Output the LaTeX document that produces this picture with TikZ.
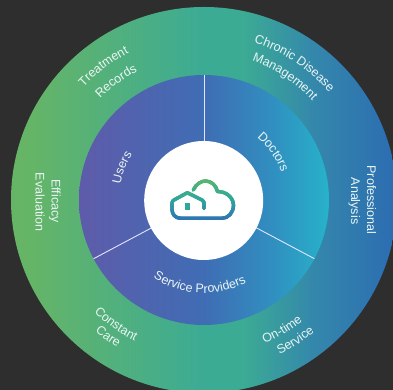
\documentclass[tikz,border=0pt]{standalone}
\usepackage{fontspec}
\setmainfont{Liberation Sans}
\usetikzlibrary{decorations.text}
\definecolor{bgdark}{HTML}{2D2E2D}
\definecolor{lbl}{HTML}{EAF5F4}
\definecolor{icA}{HTML}{5CB86A}
\definecolor{icB}{HTML}{2FA79A}
\definecolor{icC}{HTML}{2F72B5}
\definecolor{outerA}{HTML}{66B566}
\definecolor{outerB}{HTML}{3CAB94}
\definecolor{outerC}{HTML}{3488AB}
\definecolor{outerD}{HTML}{2C6CB2}
\definecolor{innerA}{HTML}{5F5BAA}
\definecolor{innerB}{HTML}{3F6DB4}
\definecolor{innerC}{HTML}{3090C0}
\definecolor{innerD}{HTML}{27B2CA}
\pgfdeclarehorizontalshading{outerring}{100bp}{color(0bp)=(outerA);color(27bp)=(outerA);color(50bp)=(outerB);color(55bp)=(outerB);color(64bp)=(outerC);color(75bp)=(outerD);color(100bp)=(outerD)}
\pgfdeclarehorizontalshading{innerring}{100bp}{color(0bp)=(innerA);color(25bp)=(innerA);color(50bp)=(innerB);color(64bp)=(innerC);color(75bp)=(innerD);color(100bp)=(innerD)}
\newcommand{\lblfont}{\fontsize{12.5}{14}\selectfont}
\newcommand{\cwtext}[3]{\path[decorate,decoration={text along path,text color=lbl,text align=center,text={|\lblfont|#3}}] ({#1+50}:#2) arc[start angle={#1+50},end angle={#1-50},radius=#2];}
\newcommand{\ccwtext}[3]{\path[decorate,decoration={text along path,text color=lbl,text align=center,text={|\lblfont|#3}}] ({#1-50}:#2) arc[start angle={#1-50},end angle={#1+50},radius=#2];}
\newcommand{\iconpath}{(193.3,190) .. controls (196,184) and (201,181) .. (205.5,181) .. controls (211,181) and (216,185) .. (217.5,191.5) .. controls (226,191.5) and (233,197) .. (233.5,205) .. controls (233.5,213) and (228,218.3) .. (222,218.3) -- (181,218.3) .. controls (175,218.3) and (172,214) .. (172,209.5) -- (172,203) .. controls (172,201.5) and (173,200.5) .. (174,200) -- (187.3,192.7) -- (202,200) .. controls (203.5,201) and (204,202) .. (204,203) -- (204,208.5)}
\tikzset{divider/.style={draw=white!90!blue,line width=0.9pt},
  sidelabel/.style={text=lbl,font=\lblfont,rotate=-90,anchor=base,inner sep=0pt}}
\begin{document}
\begin{tikzpicture}[x=1pt,y=1pt]
\useasboundingbox (0,0) rectangle (393,390);
\fill[bgdark] (0,0) rectangle (393,390);
\begin{scope}
\clip (0,0) rectangle (393,390);
\coordinate (ctr) at (204,190);
\shade[shading=outerring] (ctr) circle[radius=193];
\shade[shading=innerring] (ctr) circle[radius=125];
\begin{scope}[shift={(ctr)}]
\coordinate (topa) at (90:125);
\coordinate (topb) at (90:59);
\coordinate (righta) at (-28:125);
\coordinate (rightb) at (-28:59);
\coordinate (lefta) at (208:125);
\coordinate (leftb) at (208:59);
\draw[divider] (topa) -- (topb);
\draw[divider] (righta) -- (rightb);
\draw[divider] (lefta) -- (leftb);
\cwtext{56.5}{165}{Chronic Disease}
\cwtext{56.7}{147}{Management}
\cwtext{127}{165}{Treatment}
\cwtext{126.5}{145}{Records}
\cwtext{158.6}{85}{Users}
\cwtext{34.6}{82}{Doctors}
\ccwtext{267}{93}{Service Providers}
\ccwtext{234.7}{157}{Constant}
\ccwtext{235}{171}{Care}
\ccwtext{301}{156}{On-time}
\ccwtext{303}{172}{Service}
\end{scope}
\node[sidelabel] (prof) at (367,190) {Professional};
\node[sidelabel] (anal) at (351,189) {Analysis};
\node[sidelabel] (effi) at (51.5,189) {Efficacy};
\node[sidelabel] (eval) at (35.5,188) {Evaluation};
\fill[white] (203.7,189.5) circle[radius=59.5];
\begin{scope}[shift={(0,390)},y=-1pt]
\foreach \yy in {178,...,221}{
  \pgfmathsetmacro{\ttv}{(\yy-178)/43}
  \pgfmathsetmacro{\pa}{min(100,200*\ttv)}
  \pgfmathsetmacro{\pb}{max(0,min(100,200*(\ttv-0.5)))}
  \colorlet{stripc}{icC!\pb!icB}
  \ifdim\ttv pt<0.5pt \colorlet{stripc}{icB!\pa!icA}\fi
  \begin{scope}
    \clip (160,\yy) rectangle (245,\yy+1.2);
    \draw[stripc,line width=3.3pt,line cap=round,line join=round] \iconpath;
  \end{scope}
}
\fill[icB] (185,203) rectangle (190,210);
\end{scope}
\end{scope}
\end{tikzpicture}
\end{document}
